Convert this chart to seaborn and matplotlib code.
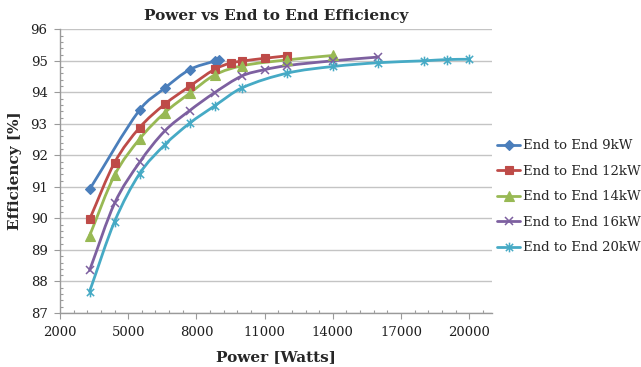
import matplotlib
matplotlib.use("Agg")
import matplotlib.pyplot as plt
import numpy as np
import pandas as pd
import seaborn as sns
from matplotlib.path import Path
from matplotlib.patches import PathPatch
from matplotlib.lines import Line2D
from matplotlib.ticker import MultipleLocator

# ---- data: output power (W) vs end-to-end efficiency (%) ----
labels = ["End to End 9kW", "End to End 12kW", "End to End 14kW",
          "End to End 16kW", "End to End 20kW"]

power_9kw = [3300, 5500, 6600, 7700, 8800, 9000]
eff_9kw = [90.92, 93.44, 94.13, 94.72, 94.99, 95.02]

power_12kw = [3300, 4400, 5500, 6600, 7700, 8800, 9500, 10000, 11000, 12000]
eff_12kw = [89.97, 91.77, 92.88, 93.62, 94.19, 94.73, 94.93, 94.99, 95.08, 95.16]

power_14kw = [3300, 4400, 5500, 6600, 7700, 8800, 10000, 12000, 14000]
eff_14kw = [89.45, 91.37, 92.52, 93.35, 93.97, 94.55, 94.84, 95.03, 95.17]

power_16kw = [3300, 4400, 5500, 6600, 7700, 8800, 10000, 11000, 12000, 14000, 16000]
eff_16kw = [88.35, 90.48, 91.78, 92.77, 93.42, 93.99, 94.52, 94.72, 94.85, 95.00, 95.12]

power_20kw = [3300, 4400, 5500, 6600, 7700, 8800, 10000, 12000, 14000, 16000,
              18000, 19000, 20000]
eff_20kw = [87.68, 89.90, 91.42, 92.33, 93.02, 93.57, 94.14, 94.61, 94.82, 94.94,
            95.00, 95.04, 95.05]

powers = [power_9kw, power_12kw, power_14kw, power_16kw, power_20kw]
effs = [eff_9kw, eff_12kw, eff_14kw, eff_16kw, eff_20kw]

colors = ["#4A7EBB", "#BE4B48", "#98B954", "#7D60A0", "#46AAC5"]

# asterisk-style marker: vertical bar plus an X
star = Path([(0, -1), (0, 1), (-0.75, -0.75), (0.75, 0.75), (-0.75, 0.75), (0.75, -0.75)],
            [Path.MOVETO, Path.LINETO, Path.MOVETO, Path.LINETO, Path.MOVETO, Path.LINETO])
marker_styles = [
    dict(marker="D", markersize=4.6, markeredgewidth=0.8),
    dict(marker="s", markersize=5.8, markeredgewidth=0.8),
    dict(marker="^", markersize=6.6, markeredgewidth=0.8),
    dict(marker="x", markersize=6.2, markeredgewidth=1.1),
    dict(marker=star, markersize=7.0, markeredgewidth=1.1),
]


def smooth_path(xs, ys):
    """Cubic Bezier through the data points, tangents scaled by x spacing."""
    pts = np.column_stack([xs, ys]).astype(float)
    n = len(pts)
    verts = [pts[0]]
    codes = [Path.MOVETO]
    for i in range(n - 1):
        p0 = pts[i - 1] if i > 0 else pts[i]
        p1 = pts[i]
        p2 = pts[i + 1]
        p3 = pts[i + 2] if i + 2 < n else pts[i + 1]
        h = p2[0] - p1[0]
        c1 = p1 + (p2 - p0) * h / (p2[0] - p0[0]) / 3.0
        c2 = p2 - (p3 - p1) * h / (p3[0] - p1[0]) / 3.0
        verts += [c1, c2, p2]
        codes += [Path.CURVE4] * 3
    return Path(verts, codes)


sns.set_theme(style="white")
plt.rcParams["font.family"] = ["DejaVu Serif"]

fig = plt.figure(figsize=(6.41, 3.67), dpi=100)
ax = fig.add_axes([60 / 641, 54 / 367, 432 / 641, 283.7 / 367])

for xs, ys, c, ms in zip(powers, effs, colors, marker_styles):
    ax.add_patch(PathPatch(smooth_path(xs, ys), facecolor="none", edgecolor=c,
                           lw=2.0, zorder=2, capstyle="round", joinstyle="round"))
    df = pd.DataFrame({"Power": xs, "Efficiency": ys})
    sns.lineplot(data=df, x="Power", y="Efficiency", ax=ax, color=c, linestyle="",
                 markerfacecolor=c, markeredgecolor=c, errorbar=None, zorder=3, **ms)

ax.set_xlim(2000, 21000)
ax.set_ylim(87, 96)
ax.xaxis.set_major_locator(MultipleLocator(3000, offset=2000))
ax.xaxis.set_minor_locator(MultipleLocator(600, offset=2000))
ax.yaxis.set_major_locator(MultipleLocator(1))
ax.yaxis.set_minor_locator(MultipleLocator(0.2))

ax.yaxis.grid(True, which="major", color="#C4C4C4", lw=1.0)
ax.xaxis.grid(False)
ax.set_axisbelow(True)
for side in ["top", "right"]:
    ax.spines[side].set_visible(False)
for side in ["left", "bottom"]:
    ax.spines[side].set_color("#9A9A9A")
    ax.spines[side].set_linewidth(1.0)

ax.tick_params(which="major", direction="out", length=4, width=0.8, color="#9A9A9A",
               labelsize=9.5, labelcolor="#1E1E1E", pad=5, left=True, bottom=True)
ax.tick_params(which="minor", direction="in", length=2.5, width=0.8, color="#9A9A9A",
               left=True, bottom=True)

ax.set_title("Power vs End to End Efficiency", fontsize=11, fontweight="bold", pad=7)
ax.set_xlabel("Power [Watts]", fontsize=11, fontweight="bold", labelpad=8)
ax.set_ylabel("Efficiency [%]", fontsize=11, fontweight="bold", labelpad=6)

handles = [Line2D([], [], color=c, lw=2.0, markerfacecolor=c, markeredgecolor=c, **ms)
           for c, ms in zip(colors, marker_styles)]
fig.legend(handles, labels, loc="center left", bbox_to_anchor=(497 / 641, (367 - 196.7) / 367),
           frameon=False, fontsize=9.5, handlelength=1.75, handletextpad=0.2,
           labelspacing=0.95, borderpad=0, borderaxespad=0)

fig.savefig("out.png", dpi=100)
